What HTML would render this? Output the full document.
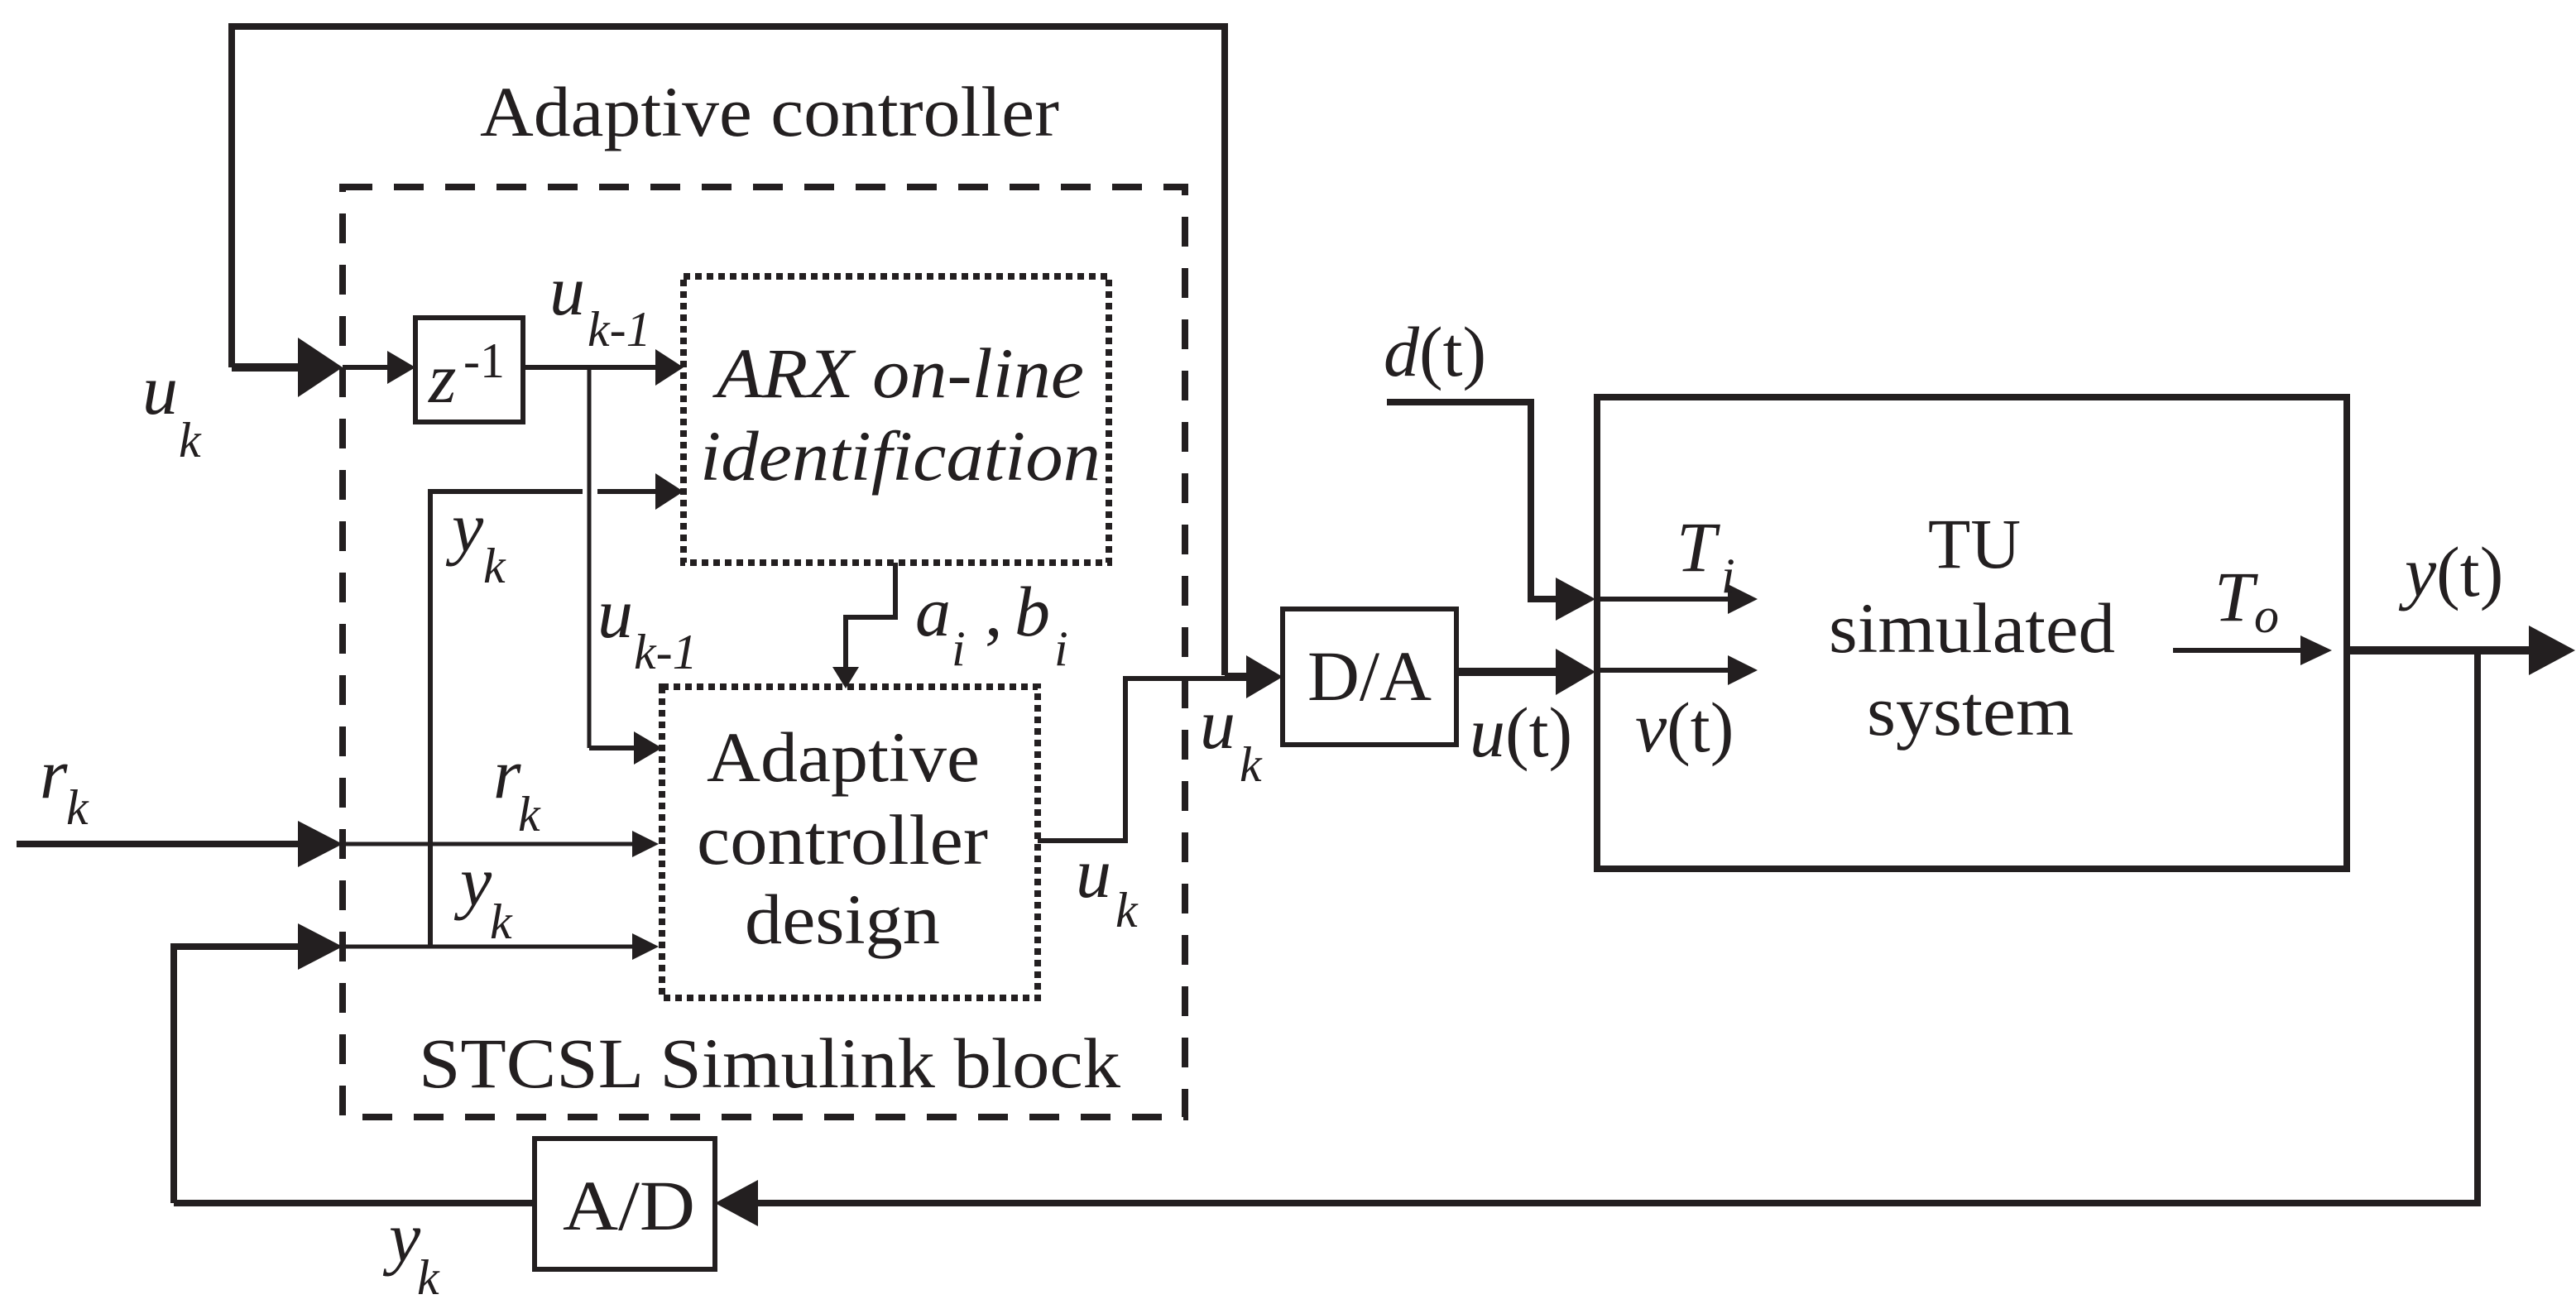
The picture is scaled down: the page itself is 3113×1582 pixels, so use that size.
<!DOCTYPE html>
<html><head><meta charset="utf-8"><style>
html,body{margin:0;padding:0;background:#fff;}
svg{display:block;}
text{font-family:"Liberation Serif",serif;fill:#231f20;}
.i{font-style:italic;}
</style></head><body>
<svg width="3113" height="1582" viewBox="0 0 1556.5 791" xmlns="http://www.w3.org/2000/svg">
<g stroke="#231f20" fill="none" stroke-linecap="butt">
<polyline points="140,222 140,16 740,16 740,408" stroke-width="4"/>
<line x1="140" y1="222" x2="182" y2="222" stroke-width="5"/>
<path d="M180,204L207,222L180,240z" fill="#231f20" stroke="none"/>
<rect x="207" y="113" width="509" height="562" stroke-width="4" stroke-dasharray="18,13"/>
<line x1="207" y1="222" x2="236" y2="222" stroke-width="3"/>
<path d="M234,212L251,222L234,232z" fill="#231f20" stroke="none"/>
<rect x="251" y="192" width="65" height="63" stroke-width="3"/>
<line x1="316" y1="222" x2="398" y2="222" stroke-width="3"/>
<path d="M396,211L413,222L396,233z" fill="#231f20" stroke="none"/>
<rect x="413" y="167" width="257" height="173" stroke-width="4" stroke-dasharray="4,3"/>
<line x1="356" y1="222" x2="356" y2="452" stroke-width="2.5"/>
<line x1="356" y1="452" x2="385" y2="452" stroke-width="3"/>
<path d="M383,442L400,452L383,462z" fill="#231f20" stroke="none"/>
<polyline points="260,572 260,297 352,297" stroke-width="3"/>
<line x1="361" y1="297" x2="398" y2="297" stroke-width="3"/>
<path d="M396,286L413,297L396,308z" fill="#231f20" stroke="none"/>
<polyline points="541,340 541,373 511,373 511,405" stroke-width="3"/>
<path d="M503,403L511,416L519,403z" fill="#231f20" stroke="none"/>
<rect x="400" y="415" width="227" height="188" stroke-width="4" stroke-dasharray="4,3"/>
<line x1="10" y1="510" x2="182" y2="510" stroke-width="4"/>
<path d="M180,496L207,510L180,524z" fill="#231f20" stroke="none"/>
<line x1="207" y1="510" x2="384" y2="510" stroke-width="2.5"/>
<path d="M382,502L398,510L382,518z" fill="#231f20" stroke="none"/>
<polyline points="105,727 105,572 182,572" stroke-width="4"/>
<path d="M180,558L207,572L180,586z" fill="#231f20" stroke="none"/>
<line x1="207" y1="572" x2="384" y2="572" stroke-width="2.5"/>
<path d="M382,564L398,572L382,580z" fill="#231f20" stroke="none"/>
<line x1="105" y1="727" x2="323" y2="727" stroke-width="4"/>
<rect x="323" y="688" width="109" height="79" stroke-width="3"/>
<polyline points="1497,393 1497,727 455,727" stroke-width="4"/>
<path d="M458,713L432,727L458,741z" fill="#231f20" stroke="none"/>
<polyline points="627,508 680,508 680,410 740,410" stroke-width="3"/>
<line x1="740" y1="409" x2="755" y2="409" stroke-width="5"/>
<path d="M753,396L775,409L753,422z" fill="#231f20" stroke="none"/>
<rect x="775" y="368" width="105" height="82" stroke-width="3"/>
<line x1="880" y1="406" x2="942" y2="406" stroke-width="5"/>
<path d="M940,392L964,406L940,420z" fill="#231f20" stroke="none"/>
<polyline points="838,243 925,243 925,362 942,362" stroke-width="4"/>
<path d="M940,349L964,362L940,375z" fill="#231f20" stroke="none"/>
<rect x="965" y="240" width="453" height="285" stroke-width="4"/>
<line x1="965" y1="362" x2="1046" y2="362" stroke-width="3"/>
<path d="M1044,353L1062,362L1044,371z" fill="#231f20" stroke="none"/>
<line x1="965" y1="405" x2="1046" y2="405" stroke-width="3"/>
<path d="M1044,396L1062,405L1044,414z" fill="#231f20" stroke="none"/>
<line x1="1313" y1="393" x2="1392" y2="393" stroke-width="3"/>
<path d="M1390,384L1409,393L1390,402z" fill="#231f20" stroke="none"/>
<line x1="1418" y1="393" x2="1530" y2="393" stroke-width="5"/>
<path d="M1528,378L1556,393L1528,408z" fill="#231f20" stroke="none"/>
</g>
<g font-size="43">
<text x="290" y="82" textLength="350" lengthAdjust="spacingAndGlyphs">Adaptive controller</text>
<text x="433" y="240" class="i" textLength="222" lengthAdjust="spacingAndGlyphs">ARX on-line</text>
<text x="423" y="290" class="i" textLength="242" lengthAdjust="spacingAndGlyphs">identification</text>
<text x="427" y="472" textLength="165" lengthAdjust="spacingAndGlyphs">Adaptive</text>
<text x="421" y="522" textLength="176" lengthAdjust="spacingAndGlyphs">controller</text>
<text x="450" y="570" textLength="118" lengthAdjust="spacingAndGlyphs">design</text>
<text x="253" y="657" textLength="424" lengthAdjust="spacingAndGlyphs">STCSL Simulink block</text>
<text x="1165" y="343" textLength="56" lengthAdjust="spacingAndGlyphs">TU</text>
<text x="1105" y="394" textLength="173" lengthAdjust="spacingAndGlyphs">simulated</text>
<text x="1128" y="444" textLength="125" lengthAdjust="spacingAndGlyphs">system</text>
<text x="790" y="423" textLength="75" lengthAdjust="spacingAndGlyphs">D/A</text>
<text x="340" y="743" textLength="80" lengthAdjust="spacingAndGlyphs">A/D</text>
<text x="259" y="243" class="i">z</text><text x="280" y="228" font-size="30">-1</text>
<text x="86" y="250" class="i">u</text><text x="108" y="276" class="i" font-size="30">k</text>
<text x="332" y="190" class="i">u</text><text x="355" y="209" class="i" font-size="30">k-1</text>
<text x="273" y="333" class="i">y</text><text x="292" y="352" class="i" font-size="30">k</text>
<text x="361" y="385" class="i">u</text><text x="383" y="404" class="i" font-size="30">k-1</text>
<text x="553" y="384" class="i">a</text><text x="575" y="402" class="i" font-size="30">i</text><text x="595" y="384">,</text><text x="613" y="384" class="i">b</text><text x="637" y="402" class="i" font-size="30">i</text>
<text x="24" y="482" class="i">r</text><text x="40" y="498" class="i" font-size="30">k</text>
<text x="298" y="482" class="i">r</text><text x="313" y="502" class="i" font-size="30">k</text>
<text x="278" y="547" class="i">y</text><text x="296" y="567" class="i" font-size="30">k</text>
<text x="235" y="762" class="i">y</text><text x="252" y="782" class="i" font-size="30">k</text>
<text x="650" y="542" class="i">u</text><text x="674" y="560" class="i" font-size="30">k</text>
<text x="725" y="452" class="i">u</text><text x="749" y="472" class="i" font-size="30">k</text>
<text x="888" y="457"><tspan class="i">u</tspan>(t)</text>
<text x="988" y="454"><tspan class="i">v</tspan>(t)</text>
<text x="836" y="227"><tspan class="i">d</tspan>(t)</text>
<text x="1453" y="360"><tspan class="i">y</tspan>(t)</text>
<text x="1013" y="345" class="i">T</text><text x="1040" y="358" class="i" font-size="30">i</text>
<text x="1338" y="375" class="i">T</text><text x="1362" y="382" class="i" font-size="30">o</text>
</g>
</svg>
</body></html>
